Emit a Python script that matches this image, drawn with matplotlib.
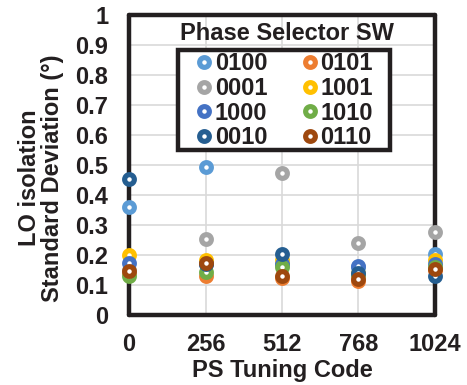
import matplotlib
matplotlib.use("Agg")
import matplotlib.pyplot as plt
from matplotlib.patches import Rectangle

plt.rcParams['font.family'] = ['Liberation Sans', 'DejaVu Sans']
plt.rcParams['font.weight'] = 'bold'

codes = [0, 256, 512, 768, 1024]
series_names = ['0100', '0101', '0001', '1001', '1000', '1010', '0010', '0110']
colors = ['#5B9BD5', '#ED7D31', '#A5A5A5', '#FFC000', '#4472C4', '#70AD47', '#255E91', '#9E480E']
s_0100 = [0.36, 0.495, 0.17, 0.16, 0.205]
s_0101 = [0.14, 0.13, 0.125, 0.115, 0.15]
s_0001 = [0.15, 0.255, 0.475, 0.24, 0.277]
s_1001 = [0.20, 0.185, 0.185, 0.14, 0.185]
s_1000 = [0.175, 0.17, 0.17, 0.163, 0.17]
s_1010 = [0.13, 0.142, 0.16, 0.135, 0.16]
s_0010 = [0.455, 0.17, 0.205, 0.14, 0.13]
s_0110 = [0.148, 0.175, 0.13, 0.12, 0.152]
values = [s_0100, s_0101, s_0001, s_1001, s_1000, s_1010, s_0010, s_0110]
yticks = [0, 0.1, 0.2, 0.3, 0.4, 0.5, 0.6, 0.7, 0.8, 0.9, 1]
ytick_labels = ['0', '0.1', '0.2', '0.3', '0.4', '0.5', '0.6', '0.7', '0.8', '0.9', '1']

W, H = 467, 385
fig = plt.figure(figsize=(W / 100, H / 100), dpi=100)
AX_L, AX_R, AX_T, AX_B = 129, 435, 15, 315
ax = fig.add_axes([AX_L / W, 1 - AX_B / H, (AX_R - AX_L) / W, (AX_B - AX_T) / H])

def ax_x(px):
    return (px - AX_L) / (AX_R - AX_L)

def ax_y(py):
    return (AX_B - py) / (AX_B - AX_T)

handles = {}
for name, c, v in zip(series_names, colors, values):
    ln, = ax.plot(codes, v, linestyle='none', marker='o', markersize=7.0,
                  markeredgewidth=3.7, markeredgecolor=c, markerfacecolor='white',
                  clip_on=False, zorder=4)
    handles[name] = ln

ax.set_xlim(0, 1024)
ax.set_ylim(0, 1)
ax.set_xticks(codes)
ax.set_xticklabels([str(c) for c in codes])
ax.set_yticks(yticks)
ax.set_yticklabels(ytick_labels)
ax.tick_params(axis='both', length=0, labelsize=17)
ax.tick_params(axis='y', pad=15)
ax.tick_params(axis='x', pad=13)
ax.grid(True, color='#D9D9D9', linewidth=1.2, zorder=0)
ax.set_axisbelow(True)
for sp in ax.spines.values():
    sp.set_linewidth(3.2)
    sp.set_color('#231F20')
    sp.set_capstyle('round')
    sp.set_zorder(3)

# legend box
box = Rectangle((ax_x(178), ax_y(150)), ax_x(390) - ax_x(178), ax_y(50) - ax_y(150),
                transform=ax.transAxes, facecolor='white', edgecolor='#231F20',
                linewidth=3.2, zorder=5, clip_on=False)
ax.add_patch(box)

em = 17 * 100 / 72
order = ['0100', '0001', '1000', '0010', '0101', '1001', '1010', '0110']
leg = ax.legend([handles[n] for n in order], order, ncol=2,
                loc='upper left', bbox_to_anchor=(ax_x(196), ax_y(52)),
                fontsize=17, frameon=False,
                handlelength=16 / em, handletextpad=3 / em, columnspacing=34 / em,
                labelspacing=1.8 / em, borderpad=0, borderaxespad=0)
leg.set_zorder(6)
for t in leg.get_texts():
    t.set_color('#231F20')

ax.text(ax_x(287), ax_y(33), 'Phase Selector SW', transform=ax.transAxes,
        ha='center', va='center', fontsize=17, fontweight='bold', color='#231F20', zorder=6)

fig.text(41 / W, 1 - 178 / H, 'LO isolation\nStandard Deviation (°)', rotation=90,
         ha='center', va='center', multialignment='center', fontsize=17,
         fontweight='bold', color='#231F20', linespacing=1.0)
fig.text(282 / W, 1 - 370 / H, 'PS Tuning Code', ha='center', va='center',
         fontsize=17, fontweight='bold', color='#231F20')
for t in ax.get_xticklabels() + ax.get_yticklabels():
    t.set_color('#231F20')

fig.savefig('out.png', dpi=100)
